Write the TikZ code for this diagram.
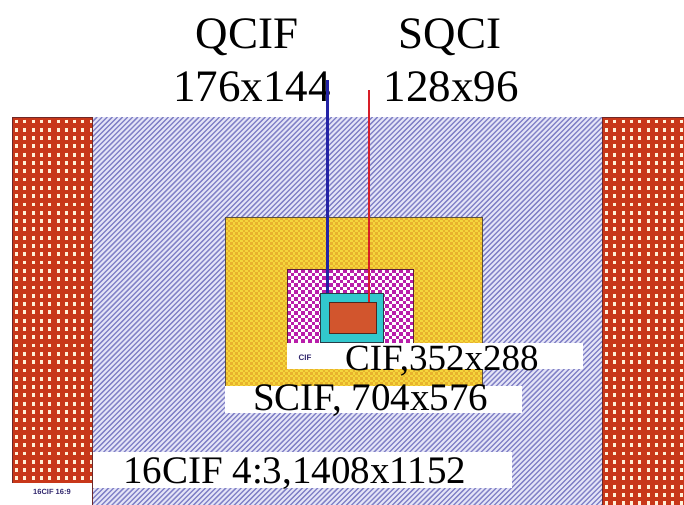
\documentclass[tikz,border=0pt]{standalone}
\usepackage{fontspec}
\setmainfont{Liberation Serif}
\newfontfamily\smallsans{Liberation Sans}
\definecolor{redstrip}{RGB}{200,55,25}
\definecolor{rededge}{RGB}{110,40,40}
\definecolor{dotcol}{RGB}{255,240,215}
\definecolor{lavbase}{RGB}{228,228,247}
\definecolor{lavline}{RGB}{128,128,198}
\definecolor{yelbase}{RGB}{245,215,60}
\definecolor{yeldot}{RGB}{232,178,45}
\definecolor{yeledge}{RGB}{90,80,60}
\definecolor{magcol}{RGB}{185,30,170}
\definecolor{magedge}{RGB}{90,30,60}
\definecolor{cyancol}{RGB}{50,200,205}
\definecolor{cyanedge}{RGB}{40,60,70}
\definecolor{orangecol}{RGB}{210,85,45}
\definecolor{orangeedge}{RGB}{80,40,30}
\definecolor{navy}{RGB}{50,40,110}
\definecolor{blueline}{RGB}{35,35,165}
\definecolor{redline}{RGB}{215,30,40}
\tikzset{
  region/.style={rectangle,anchor=north west,inner sep=0pt,outer sep=0pt},
  redarea/.style={region,fill=redstrip},
  lavarea/.style={region,fill=lavbase},
  yelarea/.style={region,fill=yelbase},
  magarea/.style={region,fill=white},
  cyanarea/.style={region,fill=cyancol,draw=cyanedge,line width=0.8pt},
  orangearea/.style={region,fill=orangecol,draw=orangeedge,line width=0.8pt},
  labelbox/.style={region,fill=white},
  hatchline/.style={lavline,line width=1.3pt},
  dotline/.style={dotcol,line width=3pt,dash pattern=on 3.8pt off 4.5pt},
  magrow/.style={magcol,line width=3.5pt,dash pattern=on 3.5pt off 3.5pt},
  yelrow/.style={yeldot,line width=2.5pt,dash pattern=on 2.5pt off 2.5pt},
  bigtext/.style={inner sep=0pt,anchor=base,font=\fontsize{45}{45}\selectfont},
  midtext/.style={inner sep=0pt,anchor=base west},
  tinytext/.style={inner sep=0pt,text=navy,font=\smallsans\bfseries\fontsize{8}{8}\selectfont},
}
\begin{document}
\begin{tikzpicture}[x=1pt,y=-1pt]
\useasboundingbox (0,0) rectangle (684,504);
\fill[white] (0,0) rectangle (710,530);
% lavender field
\node[lavarea,minimum width=510pt,minimum height=413pt] (lav) at (92,117) {};
\begin{scope}
\clip (lav.north west) rectangle (lav.south east);
\foreach \i in {0,...,185} \draw[hatchline] ({92+\i*5.1},117) -- ++(-420,420);
\end{scope}
% red strips
\node[redarea,minimum width=80pt,minimum height=413pt] (lred) at (12,117) {};
\node[redarea,minimum width=108pt,minimum height=413pt] (rred) at (602,117) {};
\begin{scope}
\clip (lred.north west) rectangle (lred.south east);
\foreach \i in {0,...,9} \draw[dotline] ({16.5+\i*8.3},119.5) -- ++(0,420);
\end{scope}
\begin{scope}
\clip (rred.north west) rectangle (rred.south east);
\foreach \i in {0,...,12} \draw[dotline] ({606.5+\i*8.3},119.5) -- ++(0,420);
\end{scope}
\draw[rededge,line width=0.6pt] (lred.south west) -- (lred.north west) -- (lred.north east) -- (lred.south east);
\draw[rededge,line width=0.6pt] (rred.north west) -- (rred.south west);
\draw[rededge,line width=0.6pt] (rred.north west) -- (rred.north east);
% yellow
\node[yelarea,minimum width=257pt,minimum height=170pt] (yel) at (225,217) {};
\begin{scope}
\clip (yel.north west) rectangle (yel.south east);
\foreach \j in {0,2,...,68} \draw[yelrow] (225,{218.25+\j*2.5}) -- ++(260,0);
\foreach \j in {1,3,...,67} \draw[yelrow] (227.5,{218.25+\j*2.5}) -- ++(260,0);
\end{scope}
\draw[yeledge,line width=0.6pt] (yel.north west) rectangle (yel.south east);
% magenta
\node[magarea,minimum width=126pt,minimum height=78pt] (mag) at (287,269) {};
\begin{scope}
\clip (mag.north west) rectangle (mag.south east);
\foreach \j in {0,2,...,22} \draw[magrow] (287,{270.75+\j*3.5}) -- ++(130,0);
\foreach \j in {1,3,...,21} \draw[magrow] (290.5,{270.75+\j*3.5}) -- ++(130,0);
\end{scope}
\draw[magedge,line width=0.6pt] (mag.north west) rectangle (mag.south east);
% cyan and orange
\node[cyanarea,minimum width=63pt,minimum height=49pt] (cyan) at (320,293) {};
\node[orangearea,minimum width=47pt,minimum height=31pt] (orange) at (329,302) {};
% label boxes
\node[labelbox,minimum width=296pt,minimum height=26pt] (cifbox) at (287,343) {};
\node[labelbox,minimum width=297pt,minimum height=27pt] (scifbox) at (225,386) {};
\node[labelbox,minimum width=419pt,minimum height=36pt] (sixbox) at (93,452) {};
\node[labelbox,minimum width=80pt,minimum height=47pt] (widebox) at (12,483) {};
% texts
\node[bigtext] (qcif) at (247,48) {QCIF};
\node[bigtext] (qcifnum) at (252,101) {176x144};
\node[bigtext] (sqci) at (450,48) {SQCI};
\node[bigtext] (sqcinum) at (451,101) {128x96};
\node[midtext,font=\fontsize{37}{37}\selectfont] (ciftext) at (345,370) {CIF,352x288};
\node[midtext,font=\fontsize{39}{39}\selectfont] (sciftext) at (253,410) {SCIF, 704x576};
\node[midtext,font=\fontsize{39}{39}\selectfont] (sixtext) at (123,483) {16CIF 4:3,1408x1152};
\node[tinytext] (cifsmall) at (305,358) {CIF};
\node[tinytext,font=\smallsans\bfseries\fontsize{7.5}{7.5}\selectfont] (widetext) at (52,492) {16CIF 16:9};
% connectors
\coordinate (qtop) at (327,80);
\coordinate (stop) at (369,90);
\draw[blueline,line width=3pt] (qtop) -- (qtop |- cyan.north);
\draw[redline,line width=1.6pt] (stop) -- (stop |- orange.north);
\end{tikzpicture}
\end{document}
